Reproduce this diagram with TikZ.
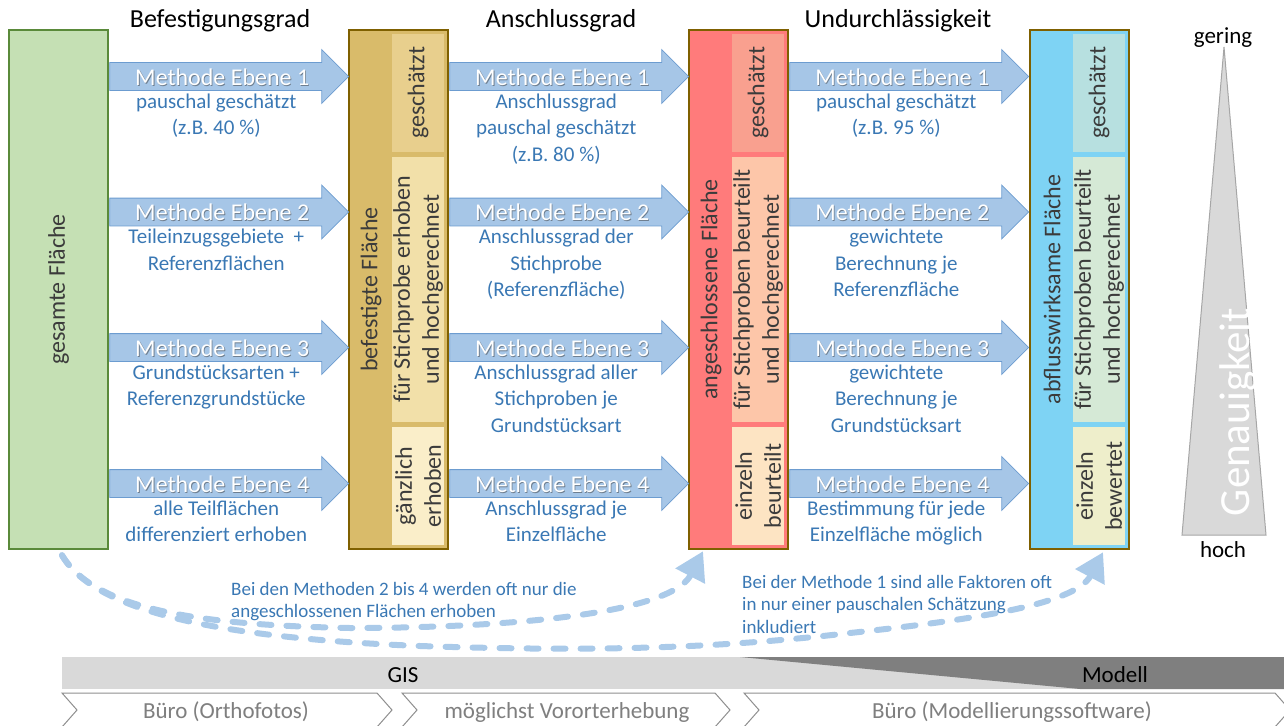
\documentclass[tikz,border=0pt]{standalone}
\usepackage{fontspec}
\setmainfont{Carlito}
\usepackage{xcolor}
\usepackage{tikz}
\usetikzlibrary{shapes.arrows,arrows.meta}

\definecolor{gruen}{HTML}{C5E0B4}
\definecolor{gruenrand}{HTML}{5A8A3A}
\definecolor{saeulenrand}{HTML}{7F6000}
\definecolor{gold}{HTML}{D9BB6A}
\definecolor{goldA}{HTML}{E8CF8D}
\definecolor{goldB}{HTML}{F2E0A9}
\definecolor{goldC}{HTML}{FAEEC9}
\definecolor{rot}{HTML}{FF7B7B}
\definecolor{rotA}{HTML}{F9A08F}
\definecolor{rotB}{HTML}{FDC6A9}
\definecolor{rotC}{HTML}{FDE4C3}
\definecolor{hellblau}{HTML}{7ED3F4}
\definecolor{hellblauA}{HTML}{B7E0E0}
\definecolor{hellblauB}{HTML}{D5E9D6}
\definecolor{hellblauC}{HTML}{EEEECB}
\definecolor{saeulentext}{HTML}{3B3B3B}
\definecolor{pfeilblau}{HTML}{A6C6E7}
\definecolor{pfeilrand}{HTML}{6C9CD0}
\definecolor{schattengrau}{HTML}{6F7F90}
\definecolor{textblau}{HTML}{3A78B4}
\definecolor{bogenblau}{HTML}{AACAE9}
\definecolor{dreieck}{HTML}{D9D9D9}
\definecolor{dreieckrand}{HTML}{A6A6A6}
\definecolor{gisgrau}{HTML}{D9D9D9}
\definecolor{modellgrau}{HTML}{7F7F7F}
\definecolor{stufengrau}{HTML}{8F8F8F}
\definecolor{stufentext}{HTML}{7F7F7F}

\begin{document}
\begin{tikzpicture}[x=1pt, y=-1pt,
    saeule/.style={draw=saeulenrand, line width=2.5pt, minimum width=99pt,
        minimum height=519pt, inner sep=0pt},
    feld/.style={minimum width=52pt, inner sep=0pt, anchor=north},
    pfeil/.style={single arrow, draw=pfeilrand, fill=pfeilblau, line width=0.8pt,
        single arrow head extend=13pt, minimum height=239pt,
        text height=27pt, text depth=0pt, inner sep=0pt, anchor=tail},
    titel/.style={font=\fontsize{26}{31}\selectfont, anchor=base},
    methode/.style={font=\fontsize{24}{28}\selectfont, text=white, anchor=base},
    schatten/.style={methode, text=schattengrau},
    beschr/.style={font=\fontsize{21}{26.5}\selectfont, text=textblau,
        align=center, anchor=north, inner sep=0pt},
    stext/.style={font=\fontsize{24}{29}\selectfont, text=saeulentext,
        rotate=90, align=center, inner sep=0pt},
    hinweis/.style={font=\fontsize{19}{22.5}\selectfont, text=textblau,
        align=left, anchor=north west, inner sep=0pt},
    bogen/.style={draw=bogenblau, line width=6pt, line cap=round,
        dash pattern=on 12pt off 15pt, -{Triangle[length=28pt,width=32pt]}},
    leiste/.style={font=\fontsize{23}{27}\selectfont, anchor=base},
    stufe/.style={draw=stufengrau, line width=1pt, fill=white}]

    \useasboundingbox (0,0) rectangle (1284,725);

    % Saeulen
    \node[saeule, fill=gruen, draw=gruenrand] (gesamt) at (58.5,289.5) {};
    \node[saeule, fill=gold] (befestigt) at (398.5,289.5) {};
    \node[saeule, fill=rot] (angeschl) at (738.5,289.5) {};
    \node[saeule, fill=hellblau] (abfluss) at (1079.5,289.5) {};

    \foreach \s/\a/\b/\c in {befestigt/goldA/goldB/goldC, angeschl/rotA/rotB/rotC,
        abfluss/hellblauA/hellblauB/hellblauC} {
        \node[feld, fill=\a, minimum height=118pt] (\s-1) at ([xshift=19.5pt, yshift=-5pt]\s.north) {};
        \node[feld, fill=\b, minimum height=265pt] (\s-2) at ([xshift=19.5pt, yshift=-128pt]\s.north) {};
        \node[feld, fill=\c, minimum height=118pt] (\s-3) at ([xshift=19.5pt, yshift=-398pt]\s.north) {};
    }

    \node[stext] (gesamt-t) at (gesamt) {gesamte Fläche};
    \node[stext] (befestigt-t) at ([xshift=-27.5pt]befestigt.center) {befestigte Fläche};
    \node[stext] (angeschl-t) at ([xshift=-27.5pt]angeschl.center) {angeschlossene Fläche};
    \node[stext] (abfluss-t) at ([xshift=-27.5pt]abfluss.center) {abflusswirksame Fläche};

    \node[stext] (befestigt-t1) at (befestigt-1) {geschätzt};
    \node[stext] (befestigt-t2) at (befestigt-2) {für Stichprobe erhoben\\und hochgerechnet};
    \node[stext] (befestigt-t3) at (befestigt-3) {gänzlich\\erhoben};
    \node[stext] (angeschl-t1) at (angeschl-1) {geschätzt};
    \node[stext] (angeschl-t2) at (angeschl-2) {für Stichproben beurteilt\\und hochgerechnet};
    \node[stext] (angeschl-t3) at (angeschl-3) {einzeln\\beurteilt};
    \node[stext] (abfluss-t1) at (abfluss-1) {geschätzt};
    \node[stext] (abfluss-t2) at (abfluss-2) {für Stichproben beurteilt\\und hochgerechnet};
    \node[stext] (abfluss-t3) at (abfluss-3) {einzeln\\bewertet};

    % Ueberschriften
    \node[titel] (titel1) at (220,28) {Befestigungsgrad};
    \node[titel] (titel2) at (561,28) {Anschlussgrad};
    \node[titel] (titel3) at (898,28) {Undurchlässigkeit};

    % Pfeile
    \foreach \s in {gesamt, befestigt, angeschl} {
        \foreach \y [count=\n] in {76.5, 212, 347.5, 483.5} {
            \node[pfeil] (\s-p\n) at (\s.east |- 0,\y) {};
            \node[schatten] (\s-ms\n) at ([xshift=113.8pt, yshift=-9.6pt]\s-p\n.tail) {Methode Ebene \n};
            \node[methode] (\s-m\n) at ([xshift=113pt, yshift=-8.5pt]\s-p\n.tail) {Methode Ebene \n};
        }
    }

    % Beschreibungen
    \node[beschr] (gesamt-b1) at ([xshift=107pt, yshift=-17pt]gesamt-p1.tail) {pauschal geschätzt\\(z.B. 40 \%)};
    \node[beschr] (gesamt-b2) at ([xshift=107pt, yshift=-17pt]gesamt-p2.tail) {Teileinzugsgebiete~ +\\Referenzflächen};
    \node[beschr] (gesamt-b3) at ([xshift=107pt, yshift=-17pt]gesamt-p3.tail) {Grundstücksarten +\\Referenzgrundstücke};
    \node[beschr] (gesamt-b4) at ([xshift=107pt, yshift=-17pt]gesamt-p4.tail) {alle Teilflächen\\differenziert erhoben};

    \node[beschr] (befestigt-b1) at ([xshift=107pt, yshift=-17pt]befestigt-p1.tail) {Anschlussgrad\\pauschal geschätzt\\(z.B. 80 \%)};
    \node[beschr] (befestigt-b2) at ([xshift=107pt, yshift=-17pt]befestigt-p2.tail) {Anschlussgrad der\\Stichprobe\\(Referenzfläche)};
    \node[beschr] (befestigt-b3) at ([xshift=107pt, yshift=-17pt]befestigt-p3.tail) {Anschlussgrad aller\\Stichproben je\\Grundstücksart};
    \node[beschr] (befestigt-b4) at ([xshift=107pt, yshift=-17pt]befestigt-p4.tail) {Anschlussgrad je\\Einzelfläche};

    \node[beschr] (angeschl-b1) at ([xshift=107pt, yshift=-17pt]angeschl-p1.tail) {pauschal geschätzt\\(z.B. 95 \%)};
    \node[beschr] (angeschl-b2) at ([xshift=107pt, yshift=-17pt]angeschl-p2.tail) {gewichtete\\Berechnung je\\Referenzfläche};
    \node[beschr] (angeschl-b3) at ([xshift=107pt, yshift=-17pt]angeschl-p3.tail) {gewichtete\\Berechnung je\\Grundstücksart};
    \node[beschr] (angeschl-b4) at ([xshift=107pt, yshift=-17pt]angeschl-p4.tail) {Bestimmung für jede\\Einzelfläche möglich};

    % Genauigkeit
    \draw[fill=dreieck, draw=dreieckrand, line width=1pt] (1224,47) -- (1266,535) -- (1182,535) -- cycle;
    \node[rotate=90, font=\fontsize{43}{50}\selectfont, text=white] (genau) at (1238,412) {Genauigkeit};
    \node[leiste] (gering) at (1223,44) {gering};
    \node[leiste] (hoch) at (1223,557) {hoch};

    % Boegen
    \draw[bogen] ([xshift=3.5pt, yshift=-5pt]gesamt.south) .. controls (95,610) and (200,625) .. (350,628)
        .. controls (500,628) and (670,615) .. ([xshift=-35.5pt, yshift=-1pt]angeschl.south);
    \draw[bogen] ([xshift=3.5pt, yshift=-5pt]gesamt.south) .. controls (95,612) and (220,638) .. (420,646)
        .. controls (600,652) and (720,648) .. (850,633)
        .. controls (970,620) and (1075,605) .. ([xshift=23.5pt, yshift=-2pt]abfluss.south);

    \node[hinweis] (hinweis1) at (231,582) {Bei den Methoden 2 bis 4 werden oft nur die\\angeschlossenen Flächen erhoben};
    \node[hinweis] (hinweis2) at (742,575) {Bei der Methode 1 sind alle Faktoren oft\\in nur einer pauschalen Schätzung\\inkludiert};

    % GIS / Modell
    \fill[gisgrau] (62,657) rectangle (1284,689);
    \fill[modellgrau] (740,657) -- (1284,657) -- (1284,689) -- (1080,689) -- cycle;
    \node[leiste] (gis) at (403,682) {GIS};
    \node[leiste] (modell) at (1115,682) {Modell};

    % Arbeitsschritte
    \foreach \l/\r in {62/377, 402/715, 744/1275}
        \draw[stufe] (\l,693) -- (\r,693) -- (\r+15,710) -- (\r,727) -- (\l,727) -- (\l+15,710) -- cycle;
    \node[leiste, text=stufentext] (buero1) at (226,718) {Büro (Orthofotos)};
    \node[leiste, text=stufentext] (vorort) at (567,718) {möglichst Vororterhebung};
    \node[leiste, text=stufentext] (buero2) at (1012,718) {Büro (Modellierungssoftware)};
\end{tikzpicture}
\end{document}
